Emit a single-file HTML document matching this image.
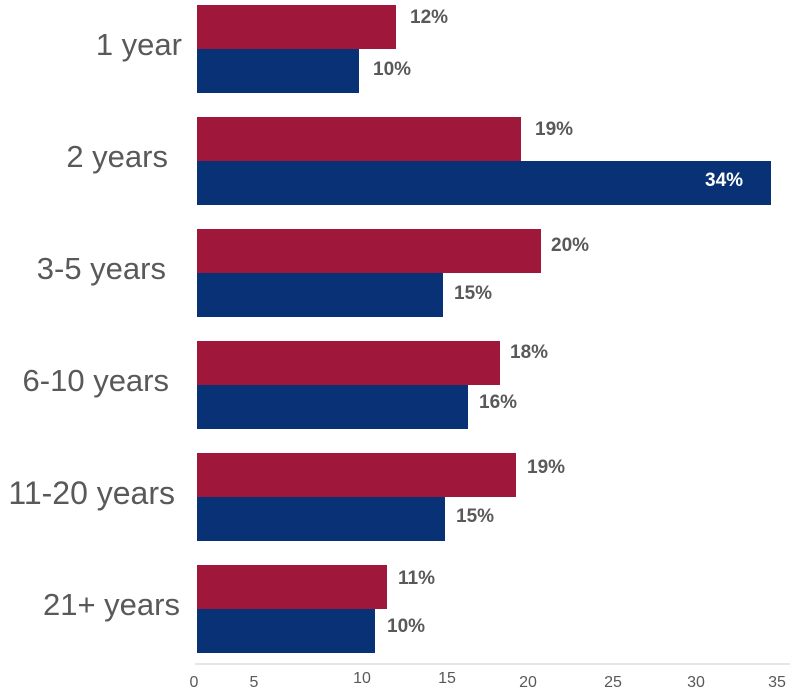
<!DOCTYPE html>
<html><head><style>
body{margin:0;width:792px;height:697px;background:#fff;font-family:"Liberation Sans",sans-serif;position:relative;overflow:hidden}
.b{position:absolute;left:197px;height:44px}
.r{background:#a0173c}.u{background:#083275}
.c{position:absolute;right:610px;font-size:31px;color:#595959;line-height:44px;white-space:nowrap}
.d{position:absolute;font-size:19px;font-weight:bold;color:#595959;line-height:20px}
.t{position:absolute;top:674px;font-size:16px;color:#595959;transform:translateX(-50%)}
</style></head><body>
<div class="c" style="top:23px">1 year</div>
<div class="c" style="top:135px;right:624px">2 years</div>
<div class="c" style="top:247px;right:626px">3-5 years</div>
<div class="c" style="top:359px;right:623px">6-10 years</div>
<div class="c" style="top:471px;right:617px;font-size:32px">11-20 years</div>
<div class="c" style="top:583px;right:612px">21+ years</div>

<div class="b r" style="top:5px;width:199px"></div><div class="b u" style="top:49px;width:162px"></div>
<div class="b r" style="top:117px;width:324px"></div><div class="b u" style="top:161px;width:574px"></div>
<div class="b r" style="top:229px;width:344px"></div><div class="b u" style="top:273px;width:246px"></div>
<div class="b r" style="top:341px;width:303px"></div><div class="b u" style="top:385px;width:271px"></div>
<div class="b r" style="top:453px;width:319px"></div><div class="b u" style="top:497px;width:248px"></div>
<div class="b r" style="top:565px;width:190px"></div><div class="b u" style="top:609px;width:178px"></div>

<div class="d" style="left:410px;top:8px">12%</div><div class="d" style="left:373px;top:60px">10%</div>
<div class="d" style="left:535px;top:120px">19%</div><div class="d" style="left:705px;top:171px;color:#fff">34%</div>
<div class="d" style="left:551px;top:236px">20%</div><div class="d" style="left:454px;top:284px">15%</div>
<div class="d" style="left:510px;top:343px">18%</div><div class="d" style="left:479px;top:393px">16%</div>
<div class="d" style="left:527px;top:458px">19%</div><div class="d" style="left:456px;top:507px">15%</div>
<div class="d" style="left:398px;top:569px">11%</div><div class="d" style="left:387px;top:617px">10%</div>

<div style="position:absolute;left:195px;top:663px;width:595px;height:2px;background:#e6e6e6"></div>
<div class="t" style="left:194px">0</div><div class="t" style="left:254px">5</div>
<div class="t" style="left:362px;top:670px">10</div><div class="t" style="left:447px;top:670px">15</div>
<div class="t" style="left:528px">20</div><div class="t" style="left:613px">25</div>
<div class="t" style="left:696px">30</div><div class="t" style="left:777px">35</div>
</body></html>
